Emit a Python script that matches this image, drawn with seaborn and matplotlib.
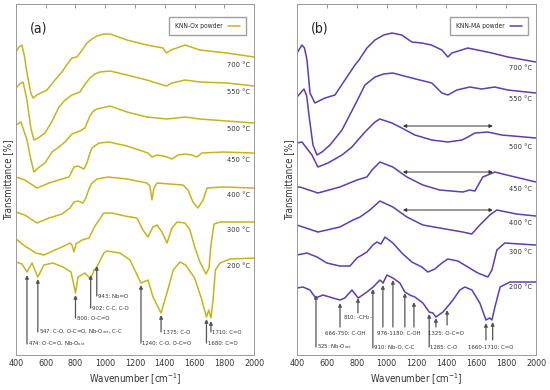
import pandas as pd
import matplotlib
matplotlib.use('Agg')
import matplotlib.pyplot as plt
import seaborn as sns
from matplotlib.lines import Line2D

# -----------------------------
# Data (wavenumber in cm-1, transmittance in arbitrary offset units)
# -----------------------------
temps = ['700 °C', '550 °C', '500 °C', '450 °C', '400 °C', '300 °C', '200 °C']

# KNN-Ox powder
a700_wn = [400, 420, 440, 458, 474, 500, 515, 540, 608, 662, 709, 745, 776, 810, 845, 877, 910, 944, 990, 1032, 1146, 1280, 1388, 1410, 1442, 1536, 1636, 1818, 2000]
a700_t = [338, 343, 345, 333, 317, 297, 292, 295, 300, 310, 318, 326, 332, 333, 340, 347, 351, 354, 356, 356, 350, 345, 342, 337, 340, 345, 340, 337, 333]

a550_wn = [400, 425, 448, 474, 500, 521, 548, 595, 640, 689, 730, 776, 830, 865, 897, 930, 964, 1032, 1146, 1280, 1410, 1448, 1536, 1636, 1818, 2000]
a550_t = [302, 306, 308, 290, 262, 250, 252, 257, 268, 283, 290, 295, 298, 306, 312, 316, 318, 319, 315, 310, 304, 307, 310, 308, 307, 304]

a500_wn = [400, 434, 474, 501, 521, 548, 595, 642, 689, 729, 776, 830, 864, 880, 897, 920, 944, 1032, 1146, 1280, 1415, 1536, 1636, 1818, 2000]
a500_t = [265, 268, 250, 230, 218, 222, 227, 238, 243, 248, 256, 259, 262, 268, 274, 279, 281, 284, 278, 273, 271, 273, 271, 269, 267]

a450_wn = [400, 460, 541, 622, 709, 756, 790, 817, 857, 877, 895, 911, 958, 1025, 1146, 1287, 1314, 1348, 1388, 1415, 1448, 1489, 1536, 1583, 1616, 1650, 1791, 2000]
a450_t = [213, 210, 202, 207, 211, 213, 223, 224, 221, 227, 236, 242, 247, 248, 244, 237, 233, 235, 234, 233, 231, 235, 236, 235, 233, 237, 238, 237]

a400_wn = [400, 460, 541, 622, 709, 763, 790, 817, 850, 870, 890, 911, 944, 1018, 1146, 1280, 1300, 1314, 1327, 1348, 1522, 1556, 1589, 1623, 1657, 1684, 1791, 2000]
a400_t = [178, 175, 167, 172, 176, 182, 188, 189, 187, 192, 201, 207, 211, 213, 211, 207, 204, 190, 202, 207, 205, 200, 188, 182, 190, 202, 203, 202]

a300_wn = [400, 460, 534, 588, 662, 709, 763, 776, 790, 803, 844, 891, 924, 944, 991, 1045, 1132, 1213, 1253, 1287, 1320, 1348, 1381, 1415, 1448, 1482, 1536, 1569, 1603, 1636, 1677, 1697, 1710, 1731, 1771, 2000]
a300_t = [151, 144, 137, 135, 140, 143, 147, 145, 138, 146, 150, 152, 162, 167, 177, 177, 174, 172, 160, 153, 163, 165, 158, 147, 162, 168, 167, 160, 142, 128, 116, 122, 145, 166, 168, 168]

a200_wn = [400, 440, 474, 508, 547, 588, 649, 716, 770, 800, 817, 864, 902, 925, 943, 991, 1012, 1099, 1166, 1240, 1287, 1321, 1375, 1420, 1457, 1502, 1540, 1600, 1645, 1680, 1695, 1710, 1724, 1740, 1771, 1838, 2000]
a200_t = [128, 126, 118, 127, 113, 125, 127, 123, 118, 97, 113, 117, 111, 120, 123, 137, 139, 137, 130, 107, 110, 93, 77, 100, 120, 128, 125, 112, 92, 73, 80, 72, 90, 120, 127, 131, 132]

# KNN-MA powder
b700_wn = [400, 433, 450, 467, 487, 520, 587, 654, 721, 788, 815, 868, 922, 980, 1036, 1102, 1169, 1236, 1300, 1370, 1410, 1437, 1544, 1705, 1812, 2000]
b700_t = [337, 345, 342, 330, 297, 287, 292, 295, 310, 325, 330, 342, 350, 355, 357, 355, 348, 347, 345, 340, 333, 337, 342, 337, 333, 328]

b550_wn = [400, 447, 465, 480, 507, 534, 567, 621, 701, 788, 855, 922, 980, 1042, 1169, 1303, 1370, 1410, 1470, 1557, 1637, 1724, 1812, 2000]
b550_t = [293, 301, 294, 275, 245, 235, 238, 245, 260, 285, 305, 313, 316, 317, 312, 307, 297, 295, 300, 303, 301, 303, 300, 297]

b500_wn = [400, 433, 500, 540, 607, 701, 768, 808, 855, 922, 955, 1036, 1102, 1189, 1303, 1410, 1504, 1544, 1591, 1678, 1771, 2000]
b500_t = [247, 248, 235, 223, 227, 235, 243, 250, 258, 268, 271, 267, 262, 255, 250, 248, 250, 253, 257, 258, 255, 252]

b450_wn = [400, 420, 540, 687, 801, 868, 902, 955, 1042, 1136, 1243, 1356, 1510, 1557, 1591, 1644, 1725, 1805, 2000]
b450_t = [203, 203, 197, 203, 210, 213, 220, 228, 223, 213, 205, 200, 198, 200, 199, 213, 218, 215, 208]

b400_wn = [400, 540, 687, 775, 822, 888, 955, 1042, 1136, 1243, 1356, 1510, 1570, 1624, 1691, 1738, 1870, 2000]
b400_t = [165, 158, 163, 170, 173, 180, 189, 183, 173, 165, 162, 158, 156, 165, 175, 180, 176, 174]

b300_wn = [400, 467, 534, 600, 687, 755, 801, 868, 908, 935, 962, 989, 1042, 1102, 1169, 1236, 1276, 1323, 1370, 1410, 1477, 1544, 1611, 1678, 1705, 1738, 1791, 2000]
b300_t = [135, 137, 133, 127, 124, 124, 132, 138, 145, 148, 146, 153, 147, 137, 128, 123, 118, 121, 127, 131, 129, 123, 117, 113, 120, 140, 147, 145]

b200_wn = [400, 440, 487, 525, 574, 641, 688, 720, 768, 810, 868, 910, 955, 976, 1002, 1042, 1089, 1122, 1156, 1189, 1243, 1285, 1310, 1330, 1377, 1400, 1444, 1490, 1524, 1571, 1624, 1665, 1690, 1705, 1725, 1760, 1825, 2000]
b200_t = [102, 103, 100, 92, 95, 92, 90, 92, 100, 92, 98, 103, 110, 107, 115, 112, 107, 98, 95, 93, 87, 78, 77, 73, 78, 82, 90, 100, 103, 100, 87, 70, 72, 70, 83, 103, 108, 108]

# temperature label heights
label_t_a = [325, 298, 261, 230, 195, 160, 124]
label_t_b = [322, 291, 243, 201, 167, 138, 103]

# band assignments, KNN-Ox (arrow x, tip, tail/text level)
ann_a_wn = [474, 547, 800, 902, 943, 1240, 1375, 1680, 1710]
ann_a_tip = [115, 111, 95, 115, 124, 105, 75, 71, 69]
ann_a_tail = [46, 58, 72, 82, 94, 47, 58, 47, 58]
ann_a_text = ['474: O-C=O, Nb-O$_\\mathregular{oct}$',
              '547: C-O, O-C=O, Nb-O$_\\mathregular{oct}$, C-C',
              '800: O-C=O', '902: C-C, C-O', '943: Nb=O',
              '1240: C-O, O-C=O', '1375: C-O', '1680: C=O', '1710: C=O']

# band assignments, KNN-MA
ann_b_wn = [527, 688, 808, 908, 975, 1042, 1122, 1183, 1285, 1330, 1405, 1665, 1710]
ann_b_tip = [95, 87, 92, 101, 105, 110, 97, 88, 76, 72, 80, 67, 68]
ann_b_tail = [43, 63, 77, 42, 63, 63, 63, 63, 43, 63, 65, 50, 50]
ann_b_text = ['525: Nb-O$_\\mathregular{oct}$', '666-750: C-OH', '810: -CH$_\\mathregular{2}$-',
              '910: Nb-O, C-C', '976-1180: C-OH', '1285: C-O', '1325: O-C=O', '1660-1710: C=O']
ann_b_text_x = [535, 722, 808, 915, 1080, 1292, 1400, 1700]
ann_b_text_y = [43, 57, 72, 43, 57, 43, 57, 43]
ann_b_text_ha = ['left', 'center', 'center', 'left', 'center', 'left', 'center', 'center']

# broad band ranges (double arrows)
range_b_wn = [1109, 1711]
range_b_t = [264, 218, 180]

col_a = '#c9b31a'
col_b = '#5b3db8'


def build(pairs):
    frames = []
    for name, (wn, t) in zip(temps, pairs):
        frames.append(pd.DataFrame({'wn': wn, 'T': t, 'temp': name}))
    return pd.concat(frames, ignore_index=True)


df_a = build([(a700_wn, a700_t), (a550_wn, a550_t), (a500_wn, a500_t), (a450_wn, a450_t),
              (a400_wn, a400_t), (a300_wn, a300_t), (a200_wn, a200_t)])
df_b = build([(b700_wn, b700_t), (b550_wn, b550_t), (b500_wn, b500_t), (b450_wn, b450_t),
              (b400_wn, b400_t), (b300_wn, b300_t), (b200_wn, b200_t)])

sns.set_style('white')
plt.rcParams['font.family'] = ['DejaVu Sans']
plt.rcParams['font.stretch'] = 'condensed'
plt.rcParams['lines.solid_joinstyle'] = 'round'

fig = plt.figure(figsize=(5.5, 3.9), dpi=100)
ax_a = fig.add_axes([0.029, 0.0897, 0.433, 0.9])
ax_b = fig.add_axes([0.54, 0.0897, 0.4345, 0.9])

for ax, df, col, tag, lab, lt in [(ax_a, df_a, col_a, '(a)', 'KNN-Ox powder', label_t_a),
                                  (ax_b, df_b, col_b, '(b)', 'KNN-MA powder', label_t_b)]:
    sns.lineplot(data=df, x='wn', y='T', units='temp', estimator=None, sort=False,
                 color=col, lw=1.1, ax=ax, legend=False)
    ax.set_xlim(400, 2000)
    ax.set_ylim(35, 386)
    ax.set_xticks(range(400, 2001, 200))
    ax.set_yticks([])
    ax.tick_params(axis='x', direction='in', top=True, length=3, width=0.6,
                   color='#888888', labelsize=6.5, labelcolor='#333333', pad=3)
    for s in ax.spines.values():
        s.set_color('#9a9a9a')
        s.set_linewidth(0.7)
    ax.set_xlabel('Wavenumber [cm$^\\mathregular{-1}$]', fontsize=7, color='#333333', labelpad=2)
    ax.set_ylabel('Transmittance [%]', fontsize=7, color='#333333', labelpad=2)
    ax.text(0.06, 0.95, tag, transform=ax.transAxes, fontsize=10, va='top', ha='left', color='#222222')
    for name, y in zip(temps, lt):
        ax.text(1975, y, name, fontsize=5.3, ha='right', va='center', color='#333333')
    ax.legend(handles=[Line2D([], [], color=col, lw=1.1)], labels=[lab], loc='upper right',
              bbox_to_anchor=(0.966, 0.963), borderaxespad=0, markerfirst=False, fontsize=4.8,
              frameon=True, fancybox=False, edgecolor='#888888', handlelength=1.8,
              borderpad=0.9, handletextpad=0.8)

arrow_kw = dict(arrowstyle='-|>', color='#555555', lw=0.9, mutation_scale=5, shrinkA=0, shrinkB=0)

for x, tip, tail, txt in zip(ann_a_wn, ann_a_tip, ann_a_tail, ann_a_text):
    ax_a.annotate('', xy=(x, tip), xytext=(x, tail), arrowprops=arrow_kw)
    ax_a.text(x + 10, tail, txt, fontsize=4.3, ha='left', va='center', color='#333333')

for x, tip, tail in zip(ann_b_wn, ann_b_tip, ann_b_tail):
    ax_b.annotate('', xy=(x, tip), xytext=(x, tail), arrowprops=arrow_kw)
for txt, x, y, ha in zip(ann_b_text, ann_b_text_x, ann_b_text_y, ann_b_text_ha):
    ax_b.text(x, y, txt, fontsize=4.3, ha=ha, va='center', color='#333333')

for y in range_b_t:
    ax_b.annotate('', xy=(range_b_wn[0], y), xytext=(range_b_wn[1], y),
                  arrowprops=dict(arrowstyle='<|-|>', color='#333333', lw=0.7,
                                  mutation_scale=5, shrinkA=0, shrinkB=0))

fig.savefig('out.png', dpi=100)
